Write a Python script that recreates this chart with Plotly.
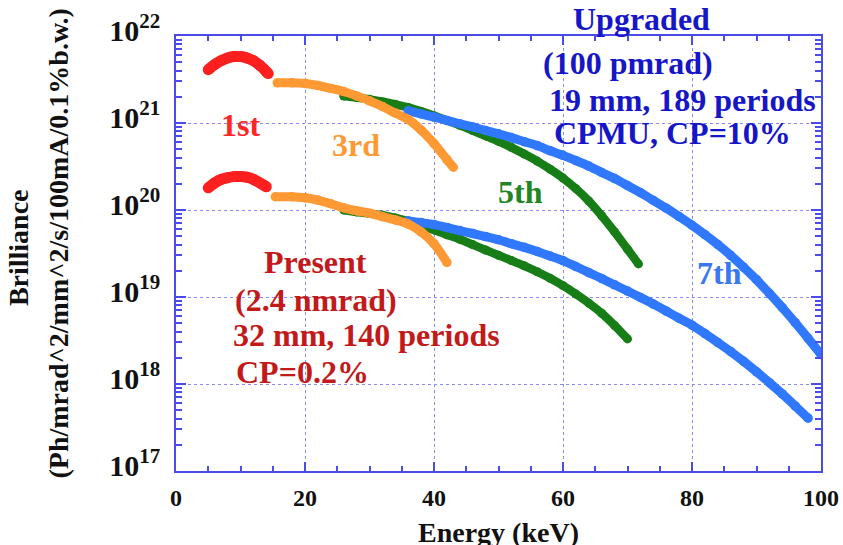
import plotly.graph_objects as go

# ---------------- data ----------------
# Upgraded (100 pmrad)
up1_E = [5, 6, 7, 8, 9, 10, 11, 12, 13, 14, 14.3]
up1_B = [4.1e21, 4.7e21, 5.2e21, 5.6e21, 5.8e21, 5.8e21, 5.6e21, 5.2e21, 4.6e21, 3.9e21, 3.7e21]

up3_E = [15.7, 18, 20, 22, 24, 26, 28, 30, 32, 34, 36, 38, 40, 42, 43]
up3_B = [2.9e21, 2.9e21, 2.85e21, 2.7e21, 2.5e21, 2.3e21, 2.05e21, 1.8e21, 1.55e21,
         1.3e21, 1.1e21, 8.3e20, 5.8e20, 3.8e20, 3.1e20]

up5_E = [26, 28, 30, 32, 34, 36, 38, 40, 42, 44, 46, 48, 50, 52, 54, 56, 58, 60,
         62, 64, 66, 68, 70, 71.7]
up5_B = [2.04e21, 1.96e21, 1.87e21, 1.76e21, 1.64e21, 1.51e21, 1.36e21, 1.21e21,
         1.07e21, 9.4e20, 8.2e20, 7.1e20, 6.15e20, 5.25e20, 4.4e20, 3.65e20,
         2.95e20, 2.33e20, 1.76e20, 1.27e20, 8.6e19, 5.6e19, 3.55e19, 2.4e19]

up7_E = [36, 38, 40, 42, 44, 46, 48, 50, 52, 54, 56, 58, 60, 62, 64, 66, 68, 70,
         72, 74, 76, 78, 80, 82, 84, 86, 88, 90, 92, 94, 96, 98, 100]
up7_B = [1.38e21, 1.27e21, 1.17e21, 1.07e21, 9.8e20, 9.0e20, 8.2e20, 7.5e20,
         6.8e20, 6.1e20, 5.5e20, 4.8e20, 4.25e20, 3.7e20, 3.2e20, 2.7e20, 2.3e20,
         1.91e20, 1.58e20, 1.29e20, 1.05e20, 8.41e19, 6.68e19, 5.22e19, 4.01e19,
         3.01e19, 2.2e19, 1.58e19, 1.1e19, 7.55e18, 5.07e18, 3.35e18, 2.19e18]

# Present (2.4 nmrad)
pr1_E = [5, 6, 7, 8, 9, 10, 11, 12, 13, 14]
pr1_B = [1.8e20, 2.05e20, 2.25e20, 2.35e20, 2.42e20, 2.42e20, 2.38e20, 2.25e20,
         2.05e20, 1.85e20]

pr3_E = [15.4, 18, 20, 22, 24, 26, 28, 30, 32, 34, 36, 38, 40, 42]
pr3_B = [1.42e20, 1.42e20, 1.38e20, 1.3e20, 1.18e20, 1.06e20, 9.8e19, 9.2e19,
         8.4e19, 7.7e19, 6.9e19, 5.6e19, 4.1e19, 2.5e19]

pr5_E = [26, 28, 30, 32, 34, 36, 38, 40, 42, 44, 46, 48, 50, 52, 54, 56, 58, 60,
         62, 64, 66, 68, 70]
pr5_B = [1.0e20, 9.5e19, 9.1e19, 8.7e19, 8.1e19, 7.4e19, 6.6e19, 5.9e19, 5.2e19,
         4.6e19, 4.0e19, 3.47e19, 3.02e19, 2.63e19, 2.28e19, 1.95e19, 1.64e19,
         1.35e19, 1.08e19, 8.5e18, 6.5e18, 4.7e18, 3.3e18]

pr7_E = [36, 38, 40, 42, 44, 46, 48, 50, 52, 54, 56, 58, 60, 62, 64, 66, 68, 70,
         72, 74, 76, 78, 80, 82, 84, 86, 88, 90, 92, 94, 96, 98]
pr7_B = [7.5e19, 7.16e19, 6.8e19, 6.3e19, 5.8e19, 5.37e19, 4.95e19, 4.55e19,
         4.1e19, 3.72e19, 3.34e19, 2.96e19, 2.62e19, 2.24e19, 1.91e19, 1.63e19,
         1.38e19, 1.17e19, 9.9e18, 8.3e18, 6.9e18, 5.7e18, 4.75e18, 3.8e18,
         3.0e18, 2.36e18, 1.82e18, 1.38e18, 1.035e18, 7.7e17, 5.6e17, 4.05e17]

x_ticks = [0, 20, 40, 60, 80, 100]

# ---------------- styles ----------------
RED = "#fe1f1f"
ORANGE = "#ff9933"
GREEN = "#177d17"
BLUE = "#2f78ff"
AXIS = "#4b4bea"
GRID = "#8a8af2"
UPTXT = "#1616c8"
PRTXT = "#c21a1a"
FONT = "Liberation Serif"

fig = go.Figure()

def add(E, B, color, lw, ms):
    fig.add_trace(go.Scatter(
        x=E, y=B, mode="lines+markers",
        line=dict(color=color, width=lw, shape="spline", smoothing=0.8),
        marker=dict(color=color, size=ms, line=dict(width=0)),
        hoverinfo="skip", showlegend=False, cliponaxis=True))

for E, B in [(up1_E, up1_B), (pr1_E, pr1_B)]:
    add(E, B, RED, 11, 11)
for E, B in [(up5_E, up5_B), (pr5_E, pr5_B)]:
    add(E, B, GREEN, 8.5, 9)
for E, B in [(up7_E, up7_B), (pr7_E, pr7_B)]:
    add(E, B, BLUE, 9, 9.5)
for E, B in [(up3_E, up3_B), (pr3_E, pr3_B)]:
    add(E, B, ORANGE, 9, 9.5)

ann = []
def txt(x, y, s, color, size=32, xref="x", yref="y", angle=0):
    ann.append(dict(x=x, y=y, xref=xref, yref=yref, text="<b>%s</b>" % s,
                    showarrow=False, xanchor="center", yanchor="middle",
                    textangle=angle,
                    font=dict(family=FONT, size=size, color=color)))

# harmonic labels (y in log10 units)
txt(10.05, 20.98, "1st", "#ff2626")
txt(27.95, 20.75, "3rd", ORANGE)
txt(53.4, 20.21, "5th", "#238523")
txt(84.2, 19.28, "7th", "#3a78f0")
# Present block
txt(21.6, 19.40, "Present", PRTXT)
txt(21.7, 18.97, "(2.4 nmrad)", PRTXT)
txt(29.5, 18.56, "32 mm, 140 periods", PRTXT)
txt(19.6, 18.14, "CP=0.2%", PRTXT)
# Upgraded block
txt(0.721, 1.039, "Upgraded", UPTXT, xref="paper", yref="paper")
txt(70.1, 21.69, "(100 pmrad)", UPTXT)
txt(78.6, 21.26, "19 mm, 189 periods", UPTXT)
txt(76.9, 20.89, "CPMU, CP=10%", UPTXT)
# axis titles
txt(0.5, -0.142, "Energy (keV)", "#111111", 28, "paper", "paper")
txt(-0.243, 0.513, "Brilliance", "#111111", 28, "paper", "paper", -90)
txt(-0.182, 0.522, "(Ph/mrad^2/mm^2/s/100mA/0.1%b.w.)", "#111111", 28,
    "paper", "paper", -90)

tickfont = dict(family=FONT, size=24, color="#111111", weight="bold")

fig.update_layout(
    width=843, height=545, autosize=False,
    margin=dict(l=176, r=22, t=36, b=74, pad=0),
    paper_bgcolor="white", plot_bgcolor="white",
    annotations=ann,
    xaxis=dict(range=[0, 100], tickvals=x_ticks, ticks="inside", ticklen=9,
               tickwidth=1.5, tickcolor=AXIS, showline=True, linecolor=AXIS,
               linewidth=2, mirror="allticks", showgrid=True, gridcolor=GRID,
               griddash="dot", gridwidth=1, zeroline=False, tickfont=tickfont,
               ticklabelstandoff=4, automargin=False,
               minor=dict(dtick=5, ticks="inside", ticklen=5, tickcolor=AXIS,
                          tickwidth=1.5, showgrid=False)),
    yaxis=dict(type="log", range=[17, 22], dtick=1, exponentformat="power",
               ticks="inside", ticklen=10, tickwidth=1.5, tickcolor=AXIS,
               showline=True, linecolor=AXIS, linewidth=2, mirror="allticks",
               showgrid=True, gridcolor=GRID, griddash="dot", gridwidth=1,
               zeroline=False, tickfont=tickfont, ticklabelstandoff=9,
               ticklabelshift=-6, automargin=False,
               minor=dict(dtick="D1", ticks="inside", ticklen=6, tickcolor=AXIS,
                          tickwidth=1.5, showgrid=False)),
)

fig.write_html("out.html", config={"displayModeBar": False},
               post_script="document.body.style.margin='0px';"
                           "document.body.style.overflow='hidden';")
